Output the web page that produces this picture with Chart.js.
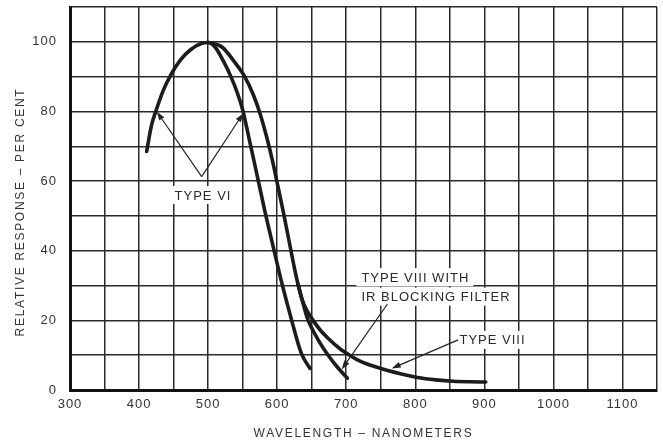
<!DOCTYPE html>
<html>
<head>
<meta charset="utf-8">
<script src="https://cdn.jsdelivr.net/npm/chart.js@4.4.1/dist/chart.umd.min.js"></script>
<style>
  html, body { margin: 0; padding: 0; background: #fff; }
  #wrap { position: relative; width: 663px; height: 442px; }
</style>
</head>
<body>
<div id="wrap"><canvas id="chart"></canvas></div>
<script>
// values (wavelength in nm, response in %)
const typeViWavelength = [411, 418, 425, 435, 446, 460, 475, 490, 500, 510, 522, 533, 542, 550, 559, 570, 582, 595, 607, 621, 635, 647.5];
const typeViResponse = [68.5, 76, 80.5, 86, 90.5, 94.8, 97.8, 99.5, 99.8, 98.5, 94.5, 90, 85.5, 80.5, 72.5, 62.5, 51.5, 40.5, 30.5, 20, 10.5, 6.2];

const typeViiiWavelength = [500, 520, 539, 553, 565, 575, 585, 593, 600, 609, 618, 625, 630, 636, 644, 652, 662, 674, 690, 705, 720, 740, 760, 780, 803, 830, 855, 880, 902];
const typeViiiResponse = [99.8, 98.5, 94, 90, 85, 79.5, 72.5, 66, 59.5, 51, 42, 35, 30.5, 26, 22.5, 20, 17.3, 14.8, 12, 10, 8.3, 6.8, 5.6, 4.6, 3.6, 2.9, 2.5, 2.35, 2.3];

const typeViiiIrWavelength = [630, 636, 643, 650, 660, 673, 687, 701.6];
const typeViiiIrResponse = [30.5, 26, 21, 17.8, 14.2, 10.2, 6.6, 3.4];

const xLabels = [300, 400, 500, 600, 700, 800, 900, 1000, 1100];
const yLabels = [0, 20, 40, 60, 80, 100];

const xTitle = 'WAVELENGTH \u2013 NANOMETERS';
const yTitle = 'RELATIVE RESPONSE \u2013 PER CENT';

// callouts, placed in data units
const notes = [
  { text: 'TYPE VI', x: 492.6, y: 56, align: 'center' },
  { text: 'TYPE VIII WITH', x: 722, y: 32.4, align: 'left' },
  { text: 'IR BLOCKING FILTER', x: 722, y: 26.8, align: 'left' },
  { text: 'TYPE VIII', x: 864, y: 14.4, align: 'left' }
];
const arrows = [
  { from: [490.7, 61.3], to: [425.5, 80] },
  { from: [490.7, 61.3], to: [551, 79.5] },
  { from: [759.7, 24.7], to: [693.4, 5.9] },
  { from: [862, 14.4], to: [765.8, 6.2] }
];

const toPoints = (xs, ys) => xs.map((x, i) => ({ x: x, y: ys[i] }));

const ink = '#1c1c1c';
const font = 'Liberation Sans, Arial, Helvetica, sans-serif';

function drawArrow(ctx, x1, y1, x2, y2) {
    const a = Math.atan2(y2 - y1, x2 - x1);
    const len = 9, w = 3;
    ctx.beginPath();
    ctx.moveTo(x1, y1);
    ctx.lineTo(x2 - Math.cos(a) * 4, y2 - Math.sin(a) * 4);
    ctx.stroke();
    ctx.beginPath();
    ctx.moveTo(x2, y2);
    ctx.lineTo(x2 - len * Math.cos(a) + w * Math.sin(a), y2 - len * Math.sin(a) - w * Math.cos(a));
    ctx.lineTo(x2 - len * Math.cos(a) - w * Math.sin(a), y2 - len * Math.sin(a) + w * Math.cos(a));
    ctx.closePath();
    ctx.fill();
}

const calloutPlugin = {
    id: 'callouts',
    beforeDraw(chart) {
        chart.ctx.letterSpacing = '1px';
    },
    afterDatasetsDraw(chart) {
        const ctx = chart.ctx;
        const xs = chart.scales.x, ys = chart.scales.y;
        ctx.save();
        ctx.font = '13px ' + font;
        ctx.letterSpacing = '1px';
        ctx.textBaseline = 'middle';
        // white boxes behind the labels
        notes.forEach(n => {
            const px = xs.getPixelForValue(n.x), py = ys.getPixelForValue(n.y);
            const w = ctx.measureText(n.text).width;
            const left = n.align === 'center' ? px - w / 2 : px;
            ctx.fillStyle = '#fff';
            ctx.fillRect(left - 5, py - 9, w + 9, 18);
        });
        ctx.fillStyle = '#2a2a2a';
        notes.forEach(n => {
            ctx.textAlign = n.align;
            ctx.fillText(n.text, xs.getPixelForValue(n.x), ys.getPixelForValue(n.y) + 1);
        });
        ctx.strokeStyle = '#222';
        ctx.fillStyle = '#222';
        ctx.lineWidth = 1.2;
        arrows.forEach(a => {
            drawArrow(ctx,
                xs.getPixelForValue(a.from[0]), ys.getPixelForValue(a.from[1]),
                xs.getPixelForValue(a.to[0]), ys.getPixelForValue(a.to[1]));
        });
        ctx.restore();
    },
    afterDraw(chart) {
        const ctx = chart.ctx;
        const area = chart.chartArea;
        ctx.save();
        ctx.font = '12px ' + font;
        ctx.letterSpacing = '1.7px';
        ctx.fillStyle = '#333';
        ctx.textAlign = 'center';
        ctx.textBaseline = 'middle';
        ctx.fillText(xTitle, (area.left + area.right) / 2, 434);
        ctx.translate(21, 212);
        ctx.rotate(-Math.PI / 2);
        ctx.fillText(yTitle, 0, 0);
        ctx.restore();
    }
};

const lineStyle = {
    showLine: true,
    borderColor: ink,
    borderWidth: 3.6,
    pointRadius: 0,
    cubicInterpolationMode: 'monotone',
    borderCapStyle: 'round',
    borderJoinStyle: 'round',
    fill: false
};

new Chart(document.getElementById('chart').getContext('2d'), {
    type: 'scatter',
    data: {
        datasets: [
            Object.assign({ label: 'Type VI', data: toPoints(typeViWavelength, typeViResponse) }, lineStyle),
            Object.assign({ label: 'Type VIII', data: toPoints(typeViiiWavelength, typeViiiResponse) }, lineStyle),
            Object.assign({ label: 'Type VIII with IR blocking filter', data: toPoints(typeViiiIrWavelength, typeViiiIrResponse) }, lineStyle)
        ]
    },
    options: {
        responsive: true,
        maintainAspectRatio: false,
        animation: false,
        events: [],
        layout: { padding: { top: 7, right: 6, left: 0, bottom: 0 } },
        plugins: { legend: { display: false }, tooltip: { enabled: false } },
        scales: {
            x: {
                type: 'linear',
                min: 300,
                max: 1150,
                afterFit: (s) => { s.height = 52; s.paddingLeft = 0; s.paddingRight = 0; },
                ticks: {
                    stepSize: 50,
                    padding: 7,
                    color: '#333',
                    font: { family: font, size: 13 },
                    maxRotation: 0,
                    autoSkip: false,
                    callback: (v) => xLabels.includes(v) ? String(v) : ''
                },
                grid: { color: '#2a2a2a', lineWidth: 1.5, drawTicks: false },
                border: { color: '#111', width: 3 }
            },
            y: {
                min: 0,
                max: 110,
                afterFit: (s) => { s.width = 70; s.paddingTop = 0; s.paddingBottom = 0; },
                ticks: {
                    stepSize: 10,
                    padding: 13,
                    color: '#333',
                    font: { family: font, size: 13 },
                    autoSkip: false,
                    callback: (v) => yLabels.includes(v) ? String(v) : ''
                },
                grid: { color: '#2a2a2a', lineWidth: 1.5, drawTicks: false },
                border: { color: '#111', width: 3 }
            }
        }
    },
    plugins: [calloutPlugin]
});
</script>
</body>
</html>
